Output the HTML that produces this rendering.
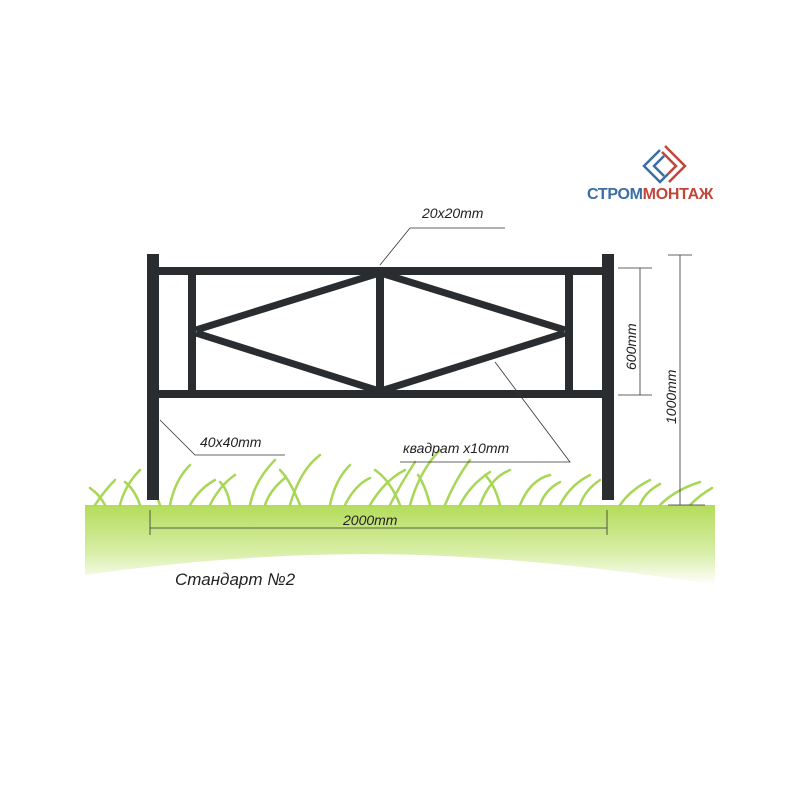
<!DOCTYPE html>
<html><head><meta charset="utf-8"><style>body{margin:0;background:#fff}svg{display:block}</style></head><body>
<svg width="800" height="800" viewBox="0 0 800 800" xmlns="http://www.w3.org/2000/svg" font-family="Liberation Sans, sans-serif">
<defs>
<linearGradient id="g" x1="0" y1="0" x2="0" y2="1"><stop offset="0" stop-color="#b4dc5a"/><stop offset="0.6" stop-color="#d8eea8"/><stop offset="1" stop-color="#ffffff"/></linearGradient>
</defs>
<path d="M85 505 L715 505 L715 585 Q560 560 420 555 Q260 550 85 575 Z" fill="url(#g)"/>
<g stroke="#a8d655" stroke-width="2.5" fill="none" stroke-linecap="round">
<path d="M95 505 Q105 490 115 480"/><path d="M120 505 Q125 485 140 470"/><path d="M170 505 Q175 480 190 465"/>
<path d="M210 505 Q220 485 235 475"/><path d="M250 505 Q255 480 275 460"/><path d="M290 505 Q300 470 320 455"/>
<path d="M330 505 Q335 480 350 465"/><path d="M370 505 Q385 480 405 470"/><path d="M410 505 Q420 470 440 450"/>
<path d="M445 505 Q455 480 470 460"/><path d="M480 505 Q490 478 510 470"/><path d="M520 505 Q530 480 550 475"/>
<path d="M560 505 Q570 485 590 475"/><path d="M620 505 Q630 490 650 480"/><path d="M660 505 Q675 490 700 482"/>
<path d="M300 505 Q290 480 280 470"/><path d="M400 505 Q390 480 375 470"/><path d="M500 505 Q495 485 485 475"/>
<path d="M105 505 Q100 495 90 488"/><path d="M140 505 Q135 490 125 482"/><path d="M190 505 Q200 488 215 480"/>
<path d="M230 505 Q228 490 220 482"/><path d="M265 505 Q270 490 285 478"/><path d="M345 505 Q355 485 370 478"/>
<path d="M390 505 Q400 485 415 462"/><path d="M430 505 Q425 485 418 475"/><path d="M460 505 Q470 485 490 472"/>
<path d="M540 505 Q545 490 560 482"/><path d="M580 505 Q585 490 600 480"/><path d="M640 505 Q645 492 660 484"/>
<path d="M690 505 Q700 495 712 488"/><path d="M160 505 Q155 490 150 482"/>
</g>
<g fill="#2a2d30">
<rect x="147" y="254" width="12" height="246"/>
<rect x="602" y="254" width="12" height="246"/>
<rect x="159" y="267" width="443" height="8"/>
<rect x="159" y="390" width="443" height="8"/>
<rect x="188" y="275" width="8" height="115"/>
<rect x="565" y="275" width="8" height="115"/>
<rect x="376" y="275" width="8" height="115"/>
</g>
<g stroke="#2a2d30" stroke-width="7" stroke-linecap="butt">
<line x1="376" y1="274" x2="196" y2="330"/><line x1="196" y1="333" x2="376" y2="390"/>
<line x1="384" y1="274" x2="565" y2="330"/><line x1="565" y1="333" x2="384" y2="390"/>
</g>
<g stroke="#333" stroke-width="0.8" fill="none">
<polyline points="380,265 410,228 505,228"/>
<polyline points="160,420 195,455 285,455"/>
<polyline points="495,362 570,462 400,462"/>
<line x1="680" y1="255" x2="680" y2="505"/><line x1="668" y1="255" x2="692" y2="255"/><line x1="668" y1="505" x2="705" y2="505"/>
<line x1="640" y1="268" x2="640" y2="395"/><line x1="618" y1="268" x2="652" y2="268"/><line x1="618" y1="395" x2="652" y2="395"/>
<line x1="150" y1="528" x2="607" y2="528"/><line x1="150" y1="510" x2="150" y2="535"/><line x1="607" y1="510" x2="607" y2="535"/>
</g>
<text x="422" y="218" font-size="14" font-style="italic" fill="#222">20x20mm</text>
<text x="200" y="447" font-size="14" font-style="italic" fill="#222">40x40mm</text>
<text x="403" y="453" font-size="14" font-style="italic" fill="#222">квадрат x10mm</text>
<text x="343" y="525" font-size="14" font-style="italic" fill="#222">2000mm</text>
<text transform="translate(636,370) rotate(-90)" font-size="14" font-style="italic" fill="#222">600mm</text>
<text transform="translate(676,424) rotate(-90)" font-size="14" font-style="italic" fill="#222">1000mm</text>
<text x="175" y="585" font-size="17" font-style="italic" fill="#222">Стандарт №2</text>
<g fill="none" stroke-width="2.5">
<path d="M660 150 L644 166 L660 182 L668 174" stroke="#3a6ea5"/>
<path d="M664 156 L654 166 L664 176" stroke="#3a6ea5"/>
<path d="M665 146 L685 166 L669 182" stroke="#c0463a"/>
<path d="M662 152 L676 166 L668 174" stroke="#c0463a"/>
</g>
<text x="587" y="199" font-size="16" font-weight="bold" fill="#3a6ea5" letter-spacing="-0.3">СТРОМ<tspan fill="#c0463a">МОНТАЖ</tspan></text>
</svg>
</body></html>
